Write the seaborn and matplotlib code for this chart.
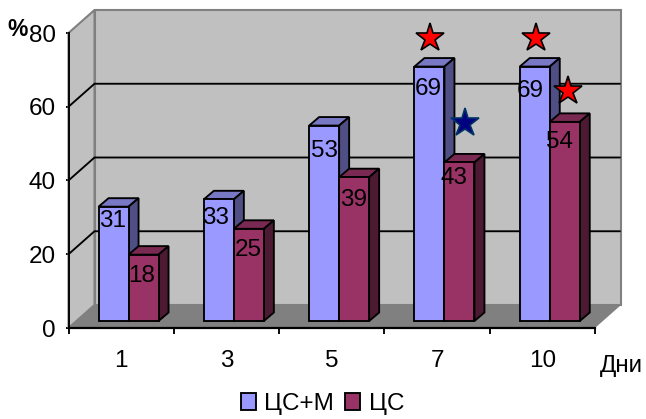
import matplotlib
matplotlib.use("Agg")
import matplotlib.pyplot as plt
from matplotlib.patches import Polygon
from matplotlib.transforms import offset_copy
import pandas as pd
import seaborn as sns

days = ["1", "3", "5", "7", "10"]
series_names = ["ЦС+М", "ЦС"]
values_cs_m = [31, 33, 53, 69, 69]
values_cs = [18, 25, 39, 43, 54]
y_ticks = [0, 20, 40, 60, 80]

sns.set_style("white")
plt.rcParams["font.family"] = ["Liberation Sans", "DejaVu Sans"]
FS = 17.5
BLACK_LW = 1.35

frame = pd.DataFrame({
    "day": days * 2,
    "value": values_cs_m + values_cs,
    "series": [series_names[0]] * 5 + [series_names[1]] * 5,
})

fig = plt.figure(figsize=(6.46, 4.19), dpi=100, facecolor="white")
W, H = 646, 419
ax = fig.add_axes([68.5 / W, (H - 328) / H, 526.5 / W, 295 / H])

front = {series_names[0]: "#9999FF", series_names[1]: "#993366"}
top = ["#7878C4", "#7A2952"]
side = ["#4F4F85", "#4D1A33"]

sns.barplot(data=frame, x="day", y="value", hue="series", order=days,
            hue_order=series_names, palette=front, width=60 / 105.3, gap=0,
            saturation=1, edgecolor="black", linewidth=BLACK_LW, ax=ax)
ax.set_xlim(-0.5, 4.5)
ax.set_ylim(0, 80)
ax.set_facecolor("none")
ax.set_xlabel("")
ax.set_ylabel("")

# conversions from pixels to data units for the oblique projection
PX = 1 / 105.3
PY = 1 / 3.6875
DX, DY = 26 * PX, 23 * PY          # full depth of the box
OX, OY = 7.4 * PX, 7 * PY          # bars stand this far behind the front plane
BX, BY = 10 * PX, 8.5 * PY         # depth of each bar

x0, x1 = -0.5, 4.5


def face(points, color, z, edge="none", lw=0):
    ax.add_patch(Polygon(points, closed=True, facecolor=color, edgecolor=edge,
                         linewidth=lw, zorder=z, clip_on=False,
                         joinstyle="miter"))


# back wall, left wall and floor
face([(x0 + DX, DY), (x1 + DX, DY), (x1 + DX, 80 + DY), (x0 + DX, 80 + DY)],
     "#C0C0C0", 0.5, "#808080", 1.5)
face([(x0, 0), (x0 + DX, DY), (x0 + DX, 80 + DY), (x0, 80)],
     "#C0C0C0", 0.6, "#808080", 1.5)
face([(x0, 0), (x0 + DX, DY), (x1 + DX, DY), (x1, 0)], "#808080", 0.7)

# gridlines run along the back wall and down the left wall
for v in y_ticks[1:-1]:
    ax.plot([x0, x0 + DX, x1 + DX - 0.01], [v, v + DY, v + DY], color="black",
            lw=BLACK_LW, zorder=1, clip_on=False, solid_joinstyle="miter")

# turn the flat bars into boxes
tops = {}
for s, container in enumerate(ax.containers):
    z = 3 + s
    for g, bar in enumerate(container):
        h = bar.get_height()
        x = bar.get_x() + OX
        w = bar.get_width()
        bar.set_x(x)
        bar.set_y(OY)
        bar.set_zorder(z + 0.2)
        bar.set_clip_on(False)
        y = OY + h
        face([(x, y), (x + w, y), (x + w + BX, y + BY), (x + BX, y + BY)],
             top[s], z, "black", BLACK_LW)
        face([(x + w, OY), (x + w + BX, OY + BY), (x + w + BX, y + BY), (x + w, y)],
             side[s], z, "black", BLACK_LW)
        tops[(s, g)] = (x + w / 2, y)

# value labels, shifted by hand in pixels where they sit unevenly in the bars
label_shift = {
    0: [(-1, -14), (-3, -19), (0, -25), (-1, -22), (-4, -24)],
    1: [(-2, -21), (-1, -21), (-1, -23), (-5, -16), (-5, -20)],
}
for s, vals in enumerate([values_cs_m, values_cs]):
    for g, v in enumerate(vals):
        ax.annotate(str(v), tops[(s, g)], xytext=label_shift[s][g],
                    textcoords="offset pixels", ha="center", va="center",
                    fontsize=FS, color="black", zorder=9, annotation_clip=False)

# significance stars, tied to the bar they mark: series, day, colours, pixel offset
stars = [
    (0, 3, "#FF0000", "black", 1, 29),
    (1, 3, "#000080", "#003366", 6, 39),
    (0, 4, "#FF0000", "black", 1, 29),
    (1, 4, "#FF0000", "black", 3, 31),
]
for s, g, fill, edge, dx, dy in stars:
    px, py = tops[(s, g)]
    tr = offset_copy(ax.transData, fig=fig, x=dx, y=dy, units="dots")
    ax.plot([px], [py], marker="*", ms=21, mfc=fill, mec=edge, mew=1.2,
            transform=tr, zorder=10, clip_on=False, ls="none")

# axes and ticks
for name in ["top", "right"]:
    ax.spines[name].set_visible(False)
for name in ["left", "bottom"]:
    ax.spines[name].set_visible(True)
    ax.spines[name].set_color("black")
    ax.spines[name].set_linewidth(BLACK_LW)
    ax.spines[name].set_zorder(2)
ax.spines["bottom"].set_linewidth(1.6)

ax.set_yticks(y_ticks)
ax.tick_params(axis="y", left=True, length=2, width=BLACK_LW, color="black",
               pad=7, labelsize=FS, labelcolor="black")
ax.set_xticks(range(len(days)), days)
ax.set_xticks([i - 0.5 for i in range(len(days) + 1)], minor=True)
ax.tick_params(axis="x", which="major", bottom=False, length=0, pad=16,
               labelsize=FS, labelcolor="black")
ax.tick_params(axis="x", which="minor", bottom=True, length=4, width=BLACK_LW,
               color="black")

fig.text(17.5 / W, 1 - 29 / H, "%", fontsize=16.5, fontweight="bold",
         ha="center", va="center", color="black")
fig.text(621 / W, 1 - 366 / H, "Дни", fontsize=FS, ha="center", va="center",
         color="black")

sns.move_legend(ax, "center", bbox_to_anchor=(322.5 / W, 1 - 404 / H),
                bbox_transform=fig.transFigure, ncol=2, frameon=False,
                title=None, fontsize=FS, handlelength=0.62, handleheight=0.68,
                handletextpad=0.36, columnspacing=0.45, borderpad=0,
                borderaxespad=0, labelcolor="black")

fig.savefig("out.png", dpi=100)
